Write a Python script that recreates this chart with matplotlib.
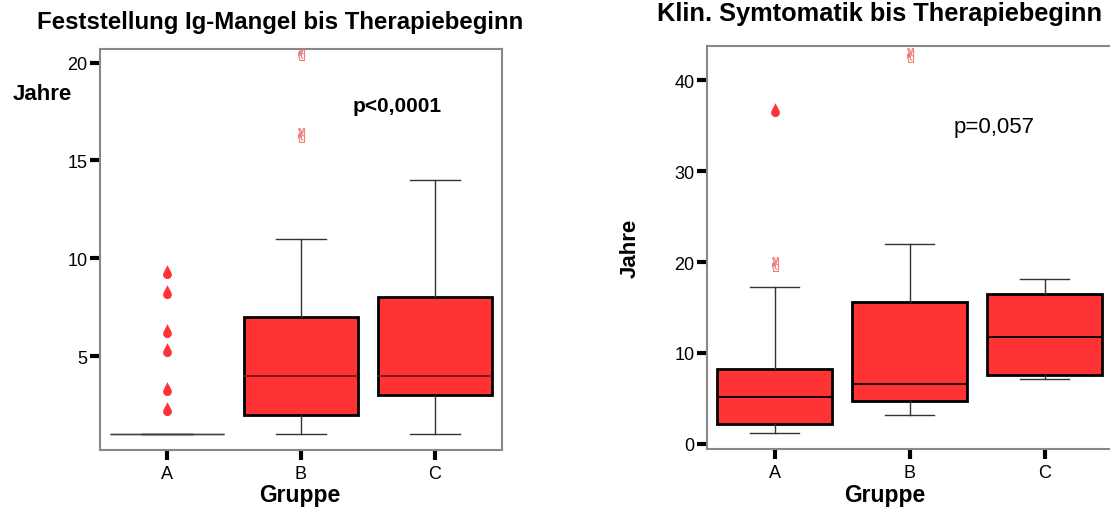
import numpy as np
import matplotlib
matplotlib.use("Agg")
import matplotlib.pyplot as plt
from matplotlib.path import Path

plt.rcParams['font.family'] = ['Liberation Sans', 'DejaVu Sans']

# group labels
groups = ["A", "B", "C"]

# left panel: Feststellung Ig-Mangel bis Therapiebeginn (Jahre)
left_q1 = [1, 2, 3]
left_med = [1, 4, 4]
left_q3 = [1, 7, 8]
left_lo = [1, 1, 1]
left_hi = [1, 11, 14]
left_out = [[9.3, 8.3, 6.3, 5.3, 3.3, 2.3], [], []]
left_ext = [[], [16.3, 20.5], []]

# right panel: Klin. Symtomatik bis Therapiebeginn (Jahre)
right_q1 = [2.1, 4.7, 7.6]
right_med = [5.1, 6.6, 11.7]
right_q3 = [8.2, 15.6, 16.5]
right_lo = [1.2, 3.2, 7.1]
right_hi = [17.2, 22.0, 18.1]
right_out = [[36.7], [], []]
right_ext = [[19.8], [42.8], []]

red = "#ff3333"
pink = "#f07070"


def drop_marker():
    # teardrop: pointed top, round bottom
    r, cy, tip = 0.6, -0.3, 1.0
    phi = np.arccos(r / (tip - cy))
    a0 = np.pi / 2 - phi
    a1 = np.pi / 2 + phi - 2 * np.pi
    ang = np.linspace(a0, a1, 40)
    verts = [(0, tip)] + [(r * np.cos(a), cy + r * np.sin(a)) for a in ang] + [(0, tip)]
    return Path(verts, closed=True)


drop = drop_marker()


def panel(ax, q1, med, q3, lo, hi, out, ext, med_color):
    stats = []
    for i, g in enumerate(groups):
        stats.append(dict(label=g, q1=q1[i], med=med[i], q3=q3[i],
                          whislo=lo[i], whishi=hi[i], fliers=[]))
    bp = ax.bxp(stats, positions=range(len(groups)), widths=0.85,
                patch_artist=True, showfliers=False,
                boxprops=dict(facecolor=red, edgecolor="black", linewidth=2),
                medianprops=dict(color=med_color, linewidth=1.3),
                whiskerprops=dict(color="#333333", linewidth=1),
                capprops=dict(color="#333333", linewidth=1),
                capwidths=0.37)
    for i, box in enumerate(bp["boxes"]):
        if q1[i] == q3[i]:
            # degenerate box drawn as a thin line
            box.set_linewidth(1)
            box.set_edgecolor("#444444")
            bp["medians"][i].set_color("#444444")
            bp["medians"][i].set_linewidth(1)
    for i in range(len(groups)):
        if out[i]:
            ax.scatter([i] * len(out[i]), out[i], marker=drop, s=110,
                       color=red, linewidths=0, zorder=4)
        if ext[i]:
            ax.scatter([i] * len(ext[i]), ext[i], marker="$\u270c$", s=110,
                       color=pink, linewidths=0.3, zorder=4)
    ax.set_xlim(-0.5, 2.5)
    for s in ax.spines.values():
        s.set_color("#888888")
        s.set_linewidth(1.5)
    ax.tick_params(axis="both", direction="out", length=7, width=3,
                   color="black", labelsize=13, pad=2)
    ax.tick_params(axis="x", pad=4)


fig = plt.figure(figsize=(11.1, 5.1), dpi=100)
ax1 = fig.add_axes([100 / 1110, 1 - 451 / 510, 402 / 1110, 401 / 510])
ax2 = fig.add_axes([707 / 1110, 1 - 450 / 510, 405 / 1110, 403 / 510])

panel(ax1, left_q1, left_med, left_q3, left_lo, left_hi, left_out, left_ext, "#7a1a1a")
ax1.set_ylim(0.2, 20.7)
ax1.set_yticks([5, 10, 15, 20])
ax1.text(0.74, 0.86, "p<0,0001", transform=ax1.transAxes, ha="center", va="center",
         fontsize=15, fontweight="bold")

panel(ax2, right_q1, right_med, right_q3, right_lo, right_hi, right_out, right_ext, "black")
ax2.set_ylim(-0.6, 43.8)
ax2.set_yticks([0, 10, 20, 30, 40])
ax2.text(0.71, 0.80, "p=0,057", transform=ax2.transAxes, ha="center", va="center",
         fontsize=16)

fig.text(280 / 1110, 1 - 22 / 510, "Feststellung Ig-Mangel bis Therapiebeginn",
         ha="center", va="center", fontsize=17.3, fontweight="bold")
fig.text(880 / 1110, 1 - 14 / 510, "Klin. Symtomatik bis Therapiebeginn",
         ha="center", va="center", fontsize=18.3, fontweight="bold")
fig.text(42 / 1110, 1 - 95 / 510, "Jahre", ha="center", va="center",
         fontsize=16, fontweight="bold")
fig.text(630 / 1110, 1 - 248 / 510, "Jahre", ha="center", va="center",
         fontsize=16, fontweight="bold", rotation=90)
fig.text(300 / 1110, 1 - 496 / 510, "Gruppe", ha="center", va="center",
         fontsize=16.5, fontweight="bold")
fig.text(885 / 1110, 1 - 496 / 510, "Gruppe", ha="center", va="center",
         fontsize=16.5, fontweight="bold")

fig.savefig("out.png", dpi=100)
